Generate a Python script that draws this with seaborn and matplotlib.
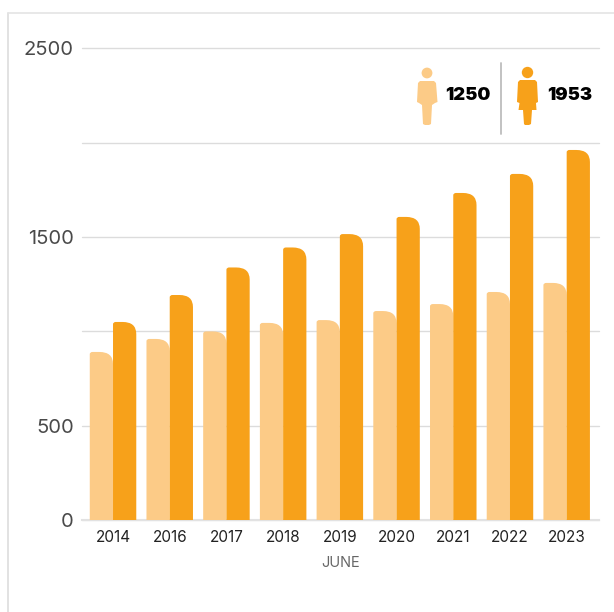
import matplotlib
matplotlib.use('Agg')
import matplotlib.pyplot as plt
import pandas as pd
import seaborn as sns
from matplotlib.patches import Circle, PathPatch, Polygon
from matplotlib.path import Path
from matplotlib.lines import Line2D

years = ['2014', '2016', '2017', '2018', '2019', '2020', '2021', '2022', '2023']
light_vals = [891, 960, 1000, 1045, 1060, 1108, 1145, 1209, 1257]
dark_vals = [1050, 1193, 1339, 1445, 1516, 1607, 1734, 1835, 1962]
y_ticks = [0, 500, 1000, 1500, 2000, 2500]
y_labels = ['0', '500', '', '1500', '', '2500']
legend_light = '1250'
legend_dark = '1953'

LIGHT = '#fccb87'
DARK = '#f7a11a'
W, H = 614, 612

df = pd.DataFrame({'year': years * 2,
                   'value': light_vals + dark_vals,
                   'group': ['light'] * 9 + ['dark'] * 9})

sns.set_theme(style='white')
plt.rcParams['font.family'] = ['Inter', 'DejaVu Sans']

fig = plt.figure(figsize=(W / 100, H / 100), dpi=100)
ax = fig.add_axes([82 / W, 1 - 520 / H, (599 - 82) / W, (520 - 48.5) / H])
sns.barplot(data=df, x='year', y='value', hue='group', palette=[LIGHT, DARK],
            saturation=1, width=0.82, gap=0, legend=False, ax=ax)
ax.set_xlim(-0.547, 8.57)
ax.set_ylim(0, 2500)

# swap square bars for ones with a rounded top right corner
rx, ry = 0.24, 64
rx2, ry2 = 0.05, 12
for bar in list(ax.patches):
    x0, w, h = bar.get_x(), bar.get_width(), bar.get_height()
    if h == 0:
        continue
    x1 = x0 + w
    verts = [(x0, 0), (x0, h - ry2), (x0, h), (x0 + rx2, h), (x1 - rx, h), (x1, h), (x1, h - ry), (x1, 0), (x0, 0)]
    codes = [Path.MOVETO, Path.LINETO, Path.CURVE3, Path.CURVE3, Path.LINETO, Path.CURVE3, Path.CURVE3,
             Path.LINETO, Path.CLOSEPOLY]
    ax.add_patch(PathPatch(Path(verts, codes), fc=bar.get_facecolor(), ec='none', zorder=3))
    bar.remove()

ax.set_xlabel('JUNE', fontsize=10.5, color='#666666', labelpad=8)
ax.set_ylabel('')
ax.set_yticks(y_ticks, y_labels)
ax.tick_params(axis='y', length=0, pad=6, labelsize=14.5, labelcolor='#4a4a4a')
ax.tick_params(axis='x', length=0, pad=7, labelsize=11, labelcolor='#222222')
ax.grid(axis='y', color='#dcdcdc', lw=1, clip_on=False)
ax.set_axisbelow(True)
sns.despine(ax=ax, left=True, top=True, right=True)
ax.spines['bottom'].set_color('#e2e2e2')
ax.spines['bottom'].set_linewidth(1.5)


# helpers in picture pixels
def px(x, y):
    return (x / W, 1 - y / H)


def poly(points, color):
    fig.add_artist(Polygon([px(*p) for p in points], closed=True, fc=color, ec='none',
                           transform=fig.transFigure))


def vline(x0, y0, x1, y1, color, lw=1):
    a, b = px(x0, y0), px(x1, y1)
    fig.add_artist(Line2D([a[0], b[0]], [a[1], b[1]], color=color, lw=lw, transform=fig.transFigure))


# card edge
vline(7.5, 612, 7.5, 12.5, '#dddddd', 1.2)
vline(7.5, 12.5, 614, 12.5, '#e4e4e4', 1.2)

# legend block
vline(501, 63, 501, 134, '#bdbdbd', 1.3)

fig.add_artist(Circle(px(427, 73), 5.4 / W, fc=LIGHT, ec='none', transform=fig.transFigure))
poly([(420, 81), (434, 81), (436, 83), (437.5, 102), (435, 103), (432, 105), (431, 124), (429, 125),
      (425, 125), (423, 124), (422, 105), (419, 103), (417, 102), (418, 83)], LIGHT)
fig.add_artist(Circle(px(527.5, 72.5), 5.7 / W, fc=DARK, ec='none', transform=fig.transFigure))
poly([(520, 80), (535, 80), (537, 82), (538, 102), (536, 103), (536.5, 110), (532, 110), (531, 124), (529, 125),
      (525, 125), (524, 124), (523, 110), (518.5, 110), (519.5, 103), (517, 102), (518, 82)], DARK)

fig.text(445.5 / W, 1 - 95.5 / H, legend_light, fontsize=13.2, fontweight='black', color='black', va='center')
fig.text(547.5 / W, 1 - 95.5 / H, legend_dark, fontsize=13.2, fontweight='black', color='black', va='center')

fig.savefig('out.png', dpi=100)
